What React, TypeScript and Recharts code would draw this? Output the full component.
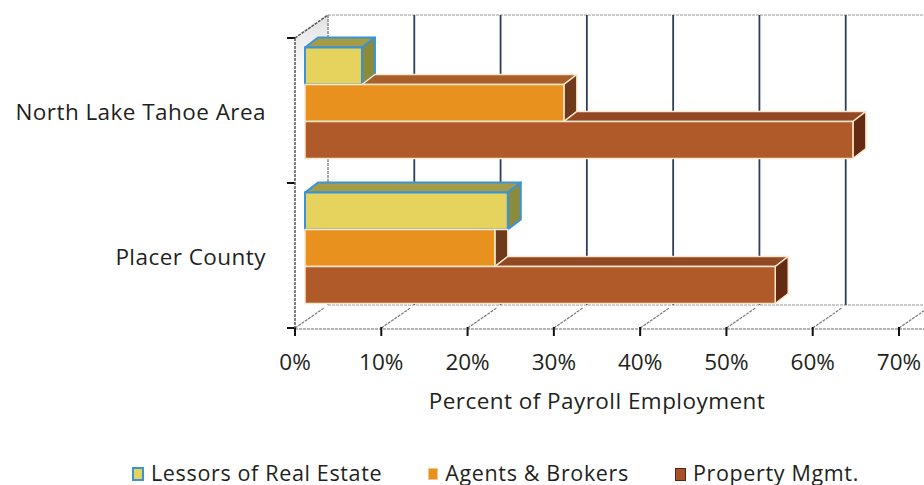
import React from 'react';
import { BarChart, Bar, XAxis, YAxis, CartesianGrid, Legend } from 'recharts';

const regions = ['North Lake Tahoe Area', 'Placer County'];
const lessors = [0.066, 0.235];
const agents = [0.3, 0.22];
const propertyMgmt = [0.635, 0.545];
const xTicks = [0, 0.1, 0.2, 0.3, 0.4, 0.5, 0.6, 0.7];

const data = regions.map((region, i) => ({
  region,
  lessors: lessors[i],
  agents: agents[i],
  property: propertyMgmt[i],
}));

const W = 924;
const H = 485;
const FONT = '"Open Sans", sans-serif';
const TEXT = '#231f20';
const AXIS_FS = 22.5;

if (typeof document !== 'undefined') document.body.style.margin = '0';

// fake 3d: wall depth, bar placement inside the depth, bar thickness
const WALL = { x: 33, y: -23 };
const SHIFT = { x: 10, y: -7 };
const DEPTH = { x: 13, y: -10 };

type Look = { front: string; top: string; side: string; edge: string; edgeW: number };

const looks: Record<string, Look> = {
  lessors: { front: '#e5d35e', top: '#a59c48', side: '#8b8b3c', edge: '#3a93d6', edgeW: 2 },
  agents: { front: '#e8911f', top: '#a95f2a', side: '#6e3a1b', edge: '#fbe8cc', edgeW: 1.5 },
  property: { front: '#b05a2a', top: '#924824', side: '#652a12', edge: '#fbe8cc', edgeW: 1.5 },
};

const series = [
  { key: 'lessors', name: 'Lessors of Real Estate', above: null as string | null },
  { key: 'agents', name: 'Agents & Brokers', above: 'lessors' },
  { key: 'property', name: 'Property Mgmt.', above: 'agents' },
];

const makeShape = (key: string, above: string | null, c: Look) => (props: any) => {
  const { x, y, width, height, payload } = props;
  const x0 = x + SHIFT.x;
  const yT = y + SHIFT.y;
  const yB = yT + height;
  const xe = x0 + width;
  let topStart = x0;
  let hidden = false;
  if (above && payload[key]) {
    topStart = x0 + (width * payload[above]) / payload[key];
    hidden = xe < topStart;
  }
  const top =
    xe > topStart
      ? `${topStart},${yT} ${topStart + DEPTH.x},${yT + DEPTH.y} ${xe + DEPTH.x},${yT + DEPTH.y} ${xe},${yT}`
      : null;
  const side = hidden
    ? `${xe},${yT} ${xe},${yB} ${xe + DEPTH.x},${yB + DEPTH.y} ${xe + DEPTH.x},${yT}`
    : `${xe},${yT} ${xe},${yB} ${xe + DEPTH.x},${yB + DEPTH.y} ${xe + DEPTH.x},${yT + DEPTH.y}`;
  return (
    <g>
      {top && <polygon points={top} fill={c.top} stroke={c.edge} strokeWidth={c.edgeW} strokeLinejoin="round" />}
      <polygon points={side} fill={c.side} stroke={c.edge} strokeWidth={c.edgeW} strokeLinejoin="round" />
      <rect x={x0} y={yT} width={width} height={height} fill={c.front} stroke={c.edge} strokeWidth={c.edgeW} />
    </g>
  );
};

const backLine = (p: any) => {
  const { x1, y1, y2, index } = p;
  const first = index === 0;
  return (
    <g key={p.key}>
      {first && (
        <g>
          <polygon
            points={`${x1},${y1} ${x1 + WALL.x},${y1 + WALL.y} ${x1 + WALL.x},${y2 + WALL.y} ${x1},${y2}`}
            fill="url(#wallShade)"
          />
          <line x1={x1} y1={y1} x2={x1 + WALL.x} y2={y1 + WALL.y} stroke="#555" strokeWidth={1.5} strokeDasharray="3 1" />
          <line x1={x1 + WALL.x} y1={y1 + WALL.y} x2={W} y2={y1 + WALL.y} stroke="#9a9a9a" strokeWidth={1.2} strokeDasharray="3 1" />
          <line x1={x1 + WALL.x} y1={y2 + WALL.y} x2={W} y2={y2 + WALL.y} stroke="#9a9a9a" strokeWidth={1.2} strokeDasharray="3 1" />
          <line x1={x1} y1={y2 + 1} x2={W} y2={y2 + 1} stroke="#9a9a9a" strokeWidth={1.5} strokeDasharray="3 1" />
        </g>
      )}
      <line
        x1={x1 + WALL.x}
        y1={y1 + WALL.y}
        x2={x1 + WALL.x}
        y2={y2 + WALL.y}
        stroke={first ? '#8a8a8a' : '#2f3d5c'}
        strokeWidth={first ? 1.5 : 1.8}
        strokeDasharray={first ? '3 1' : undefined}
      />
      <line x1={x1} y1={y2} x2={x1 + WALL.x - 4} y2={y2 + WALL.y + 3} stroke="#777" strokeWidth={1.2} strokeDasharray="3 1" />
      <line x1={x1} y1={y2 - 1} x2={x1} y2={y2 + 8} stroke="#111" strokeWidth={2} />
    </g>
  );
};

const wallTick = (p: any) => (
  <line key={p.key} x1={p.x1 - 8} y1={p.y1} x2={p.x1} y2={p.y1} stroke="#111" strokeWidth={2} />
);

// category band boundaries on the left wall (equal bands, no padding)
const bandEdges = ({ offset }: any) => {
  const top = offset?.top ?? 0;
  const h = offset?.height ?? 0;
  const pts = regions.map((_, i) => top + (i * h) / regions.length);
  pts.push(top + h);
  return pts;
};

const XTick = (p: any) => (
  <text x={p.x} y={p.y + 42} textAnchor="middle" fontFamily={FONT} fontSize={AXIS_FS} fill={TEXT}>
    {`${Math.round(p.payload.value * 100)}%`}
  </text>
);

const YTick = (p: any) => (
  <text
    x={p.x - 29}
    y={p.y + 9}
    textAnchor="end"
    fontFamily={FONT}
    fontSize={AXIS_FS}
    letterSpacing={0.45}
    fill={TEXT}
  >
    {p.payload.value}
  </text>
);

const legendIcons: Record<string, React.CSSProperties> = {
  lessors: { width: 8, height: 10, background: '#e5d35e', border: '2px solid #3a93d6' },
  agents: { width: 8, height: 10, background: '#e8911f', border: '1px solid #f3c68a' },
  property: { width: 9, height: 11, background: '#a5512a', border: '1px solid #5c2410' },
};

const LegendBox = () => (
  <div
    style={{
      display: 'flex',
      alignItems: 'center',
      height: 30,
      fontFamily: FONT,
      fontSize: 21.5,
      letterSpacing: 0.65,
      color: TEXT,
      whiteSpace: 'nowrap',
    }}
  >
    {series.map((s) => (
      <div key={s.key} style={{ display: 'flex', alignItems: 'center', marginRight: 46 }}>
        <span style={{ display: 'inline-block', marginTop: 4, ...legendIcons[s.key] }} />
        <span style={{ marginLeft: 7 }}>{s.name}</span>
      </div>
    ))}
  </div>
);

export default function App() {
  return (
    <div style={{ width: W, height: H, background: '#fff', overflow: 'hidden', position: 'relative' }}>
      <BarChart
        width={W}
        height={H}
        data={data}
        layout="vertical"
        margin={{ top: 38, right: 25, left: 0, bottom: 27 }}
        barCategoryGap={16.5}
        barGap={0}
      >
        <defs>
          <linearGradient id="wallShade" x1="0" y1="0" x2="0" y2="1">
            <stop offset="0" stopColor="#e2e2e2" />
            <stop offset="0.2" stopColor="#ffffff" />
          </linearGradient>
        </defs>
        <CartesianGrid
          horizontal={wallTick}
          vertical={backLine}
          horizontalCoordinatesGenerator={bandEdges}
        />
        <XAxis
          type="number"
          domain={[0, 0.7]}
          ticks={xTicks}
          height={100}
          axisLine={false}
          tickLine={false}
          tickSize={0}
          tickMargin={0}
          tick={XTick}
          label={{
            value: 'Percent of Payroll Employment',
            position: 'insideTop',
            offset: 65,
            fill: TEXT,
            fontSize: AXIS_FS,
            fontFamily: FONT,
            letterSpacing: 0.45,
          }}
        />
        <YAxis
          type="category"
          dataKey="region"
          width={295}
          axisLine={{ stroke: '#555', strokeWidth: 1.5, strokeDasharray: '3 1' }}
          tickLine={false}
          tickSize={0}
          tickMargin={0}
          tick={YTick}
        />
        {series.map((s) => (
          <Bar
            key={s.key}
            dataKey={s.key}
            name={s.name}
            fill={looks[s.key].front}
            shape={makeShape(s.key, s.above, looks[s.key])}
            isAnimationActive={false}
          />
        ))}
        <Legend
          content={LegendBox}
          wrapperStyle={{ left: 132, top: 457, bottom: 'auto', width: 790, height: 30 }}
        />
      </BarChart>
    </div>
  );
}
